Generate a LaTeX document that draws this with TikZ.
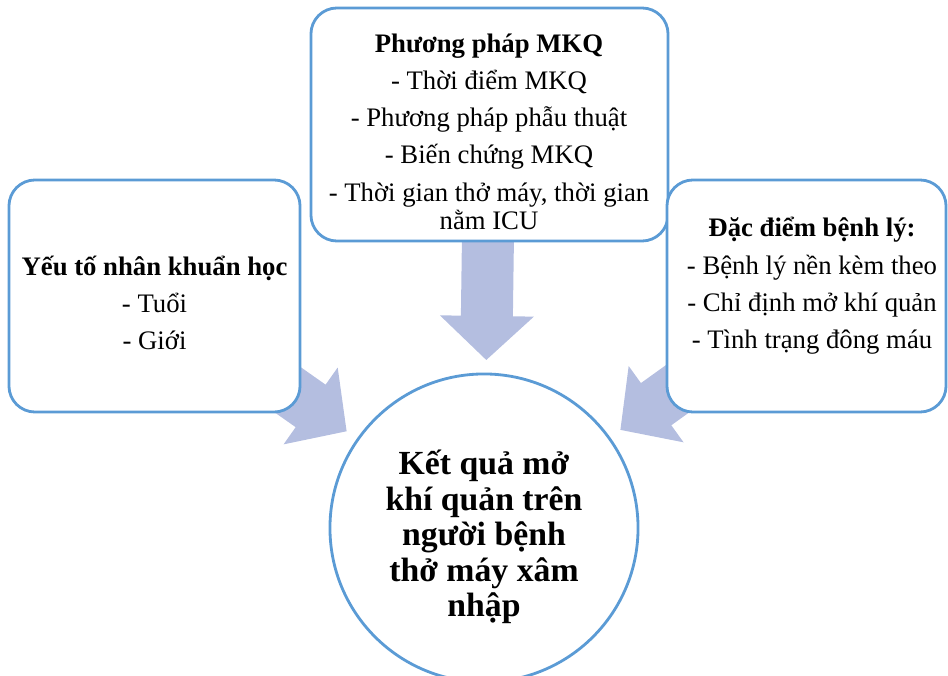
\documentclass[tikz,border=0pt]{standalone}
\usepackage{fontspec}
\setmainfont{Liberation Serif}
\usetikzlibrary{calc,backgrounds}

\definecolor{boxline}{RGB}{91,155,213}
\definecolor{arrowfill}{RGB}{180,190,224}

\tikzset{
    box/.style={draw=boxline, line width=2pt, fill=white, rounded corners=0.65cm},
    txt/.style={align=center, inner sep=0pt, font=\fontsize{19}{26.5}\selectfont},
    bigarrow/.pic={
        \fill[arrowfill] (0,0) -- (47,-44) -- (26,-44) -- (26,-150)
            -- (-26,-150) -- (-26,-44) -- (-47,-44) -- cycle;
    }
}

\begin{document}
\begin{tikzpicture}[x=0.025cm, y=-0.025cm]
    \useasboundingbox (0,0) rectangle (948,676);

    \node[box, minimum width=7.275cm, minimum height=5.8cm] (yeuto) at (154.5,296) {};
    \node[box, minimum width=8.925cm, minimum height=5.825cm] (phuongphap) at (489.5,124.5) {};
    \node[box, minimum width=6.975cm, minimum height=5.8cm] (dacdiem) at (806.5,296) {};
    \node[circle, draw=boxline, line width=2pt, fill=white, minimum size=7.7cm, inner sep=0pt] (ketqua) at (484,528) {};

    \node[txt] (yeutoTxt) at (154.5,303)
        {\textbf{Yếu tố nhân khuẩn học}\\- Tuổi\\- Giới};
    \node[txt] (phuongphapTxt) at (489,131.5)
        {\textbf{Phương pháp MKQ}\\- Thời điểm MKQ\\- Phương pháp phẫu thuật\\- Biến chứng MKQ\\
        - Thời gian thở máy, thời gian\\[-6.6pt]nằm ICU};
    \node[txt] (dacdiemTxt) at (812,286)
        {\textbf{Đặc điểm bệnh lý:}\\- Bệnh lý nền kèm theo\\- Chỉ định mở khí quản\\- Tình trạng đông máu};
    \node[align=center, inner sep=0pt, font=\fontsize{24}{25.2}\selectfont\bfseries] (ketquaTxt) at (484,537)
        {Kết quả mở\\khí quản trên\\người bệnh\\thở máy xâm\\nhập};

    \begin{scope}[on background layer]
        \foreach \src in {yeuto, phuongphap, dacdiem}
            \path let \p1 = ($(\src.center)-(ketqua.center)$), \n1 = {atan2(\y1,\x1)} in
                pic[rotate=\n1-90] at ($(ketqua.center)!4.2cm!(\src.center)$) {bigarrow};
    \end{scope}
\end{tikzpicture}
\end{document}
